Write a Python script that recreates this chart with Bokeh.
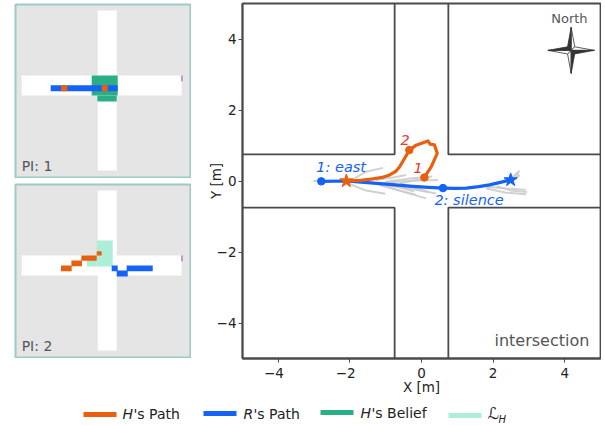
from bokeh.plotting import figure
from bokeh.layouts import column, row
from bokeh.models import Range1d, FixedTicker
from bokeh.core.properties import value
from bokeh.embed import file_html
from bokeh.resources import INLINE

FONT = value("DejaVu Sans")
ORANGE = "#e8600f"
BLUE = "#1463f5"
GREEN = "#2bae85"
LIGHT = "#aeeed8"
GRAY_T = "#555555"
RED = "#e8392c"
ROAD = "#4a4a4a"

# ---- inset grids (cell units): left, right, top, bottom
road_l, road_r, road_t, road_b = [0, 12.36], [26, 15.45], [10.57, 0], [13.82, 26]
marker_l, marker_r, marker_t, marker_b = [25.95], [26.15], [10.57], [11.5]

belief1_l, belief1_r, belief1_t, belief1_b = [11.38, 12.3], [15.61, 15.45], [10.57, 13.82], [13.82, 14.8]
r1_l, r1_r, r1_t, r1_b = [4.72], [15.61], [12.15], [13.13]
h1_l, h1_r, h1_t, h1_b = [6.39, 13.0], [7.43, 14.0], [12.15, 12.15], [13.13, 13.13]

lh2_l, lh2_r, lh2_t, lh2_b = [12.2, 10.57], [14.8, 12.2], [8.13, 10.57], [12.36, 12.36]
h2_l = [6.39, 8.08, 9.7, 12.2]
h2_r = [8.13, 9.8, 12.2, 13.0]
h2_t = [12.2, 11.38, 10.57, 9.87]
h2_b = [13.12, 12.3, 11.43, 10.57]
r2_l = [14.63, 15.45, 17.07]
r2_r = [15.61, 17.24, 21.3]
r2_t = [12.2, 13.0, 12.2]
r2_b = [13.12, 13.98, 13.12]

# ---- main chart paths
blue_x = [-2.80, -2.10, -1.6, -1.08, -0.65, -0.24, 0.2, 0.60, 0.95, 1.25, 1.6, 1.90, 2.2, 2.49]
blue_y = [-0.01, 0.0, -0.04, -0.08, -0.115, -0.15, -0.18, -0.20, -0.21, -0.20, -0.16, -0.11, -0.04, 0.03]
orange_x = [0.08, 0.27, 0.44, 0.36, 0.24, 0.18, -0.15, -0.34, -0.47, -0.61, -0.72, -0.89, -1.1, -1.36, -1.7, -2.10]
orange_y = [0.10, 0.40, 0.78, 1.02, 1.04, 1.13, 1.01, 0.87, 0.64, 0.40, 0.27, 0.17, 0.10, 0.06, 0.02, 0.0]
blue_dots_x, blue_dots_y = [-2.80, 0.60], [-0.01, -0.20]
orange_dots_x, orange_dots_y = [0.08, -0.34], [0.10, 0.87]
orange_star = (-2.10, 0.0)
blue_star = (2.49, 0.03)

gray_xs = [
    [-2.01, -1.55, -1.08], [-2.01, -1.55, -1.01], [-3.02, -2.80], [-1.08, -0.33, 0.46],
    [-1.27, -0.80, -0.43], [-0.61, -0.15, 0.22], [-1.17, -0.52, 0.13], [-1.17, -0.61, -0.15],
    [-0.99, -0.24, 0.41], [1.81, 2.37, 2.92], [1.81, 2.37, 2.92], [2.27, 2.55, 2.74], [2.41, 2.64, 2.74],
    [-1.6, -0.9, -0.2], [-1.0, -0.4, 0.3], [-0.9, -0.3, 0.2], [2.1, 2.5, 2.95], [2.45, 2.62, 2.72],
]
gray_ys = [
    [0.0, 0.26, 0.37], [-0.08, -0.27, -0.36], [-0.0, -0.0], [-0.05, 0.01, 0.03],
    [0.03, 0.10, 0.17], [-0.07, 0.03, 0.07], [-0.11, -0.30, -0.49], [-0.11, -0.27, -0.39],
    [-0.11, -0.23, -0.35], [-0.16, -0.21, -0.25], [-0.21, -0.33, -0.37], [-0.02, 0.12, 0.29], [0.03, 0.07, 0.17],
    [-0.03, -0.1, -0.3], [-0.02, 0.06, 0.13], [-0.12, -0.17, -0.3], [-0.15, -0.27, -0.31], [0.0, 0.12, 0.23],
]

road_half = 0.75
lim = 5
ticks = [-4, -2, 0, 2, 4]


def inset(label, top_margin):
    p = figure(width=177, height=175, output_backend="svg", toolbar_location=None,
               x_range=Range1d(-1.0, 27.44), y_range=Range1d(27.15, -0.98),
               min_border_left=1, min_border_right=1, min_border_top=1, min_border_bottom=1,
               x_axis_location=None, y_axis_location=None, background_fill_color="#e5e5e5",
               margin=(top_margin, 0, 0, 14))
    p.grid.visible = False
    p.outline_line_color = "#9ccac6"
    p.outline_line_width = 2
    p.quad(left=road_l, right=road_r, top=road_t, bottom=road_b, fill_color="white", line_color=None)
    p.quad(left=marker_l, right=marker_r, top=marker_t, bottom=marker_b, fill_color="#a06cc0", line_color=None)
    p.text(x=[0], y=[25.2], text=[label], text_font=FONT, text_font_size="14px", text_color=GRAY_T,
           text_baseline="middle", text_align="left")
    return p


a = inset("PI: 1", 3)
a.quad(left=belief1_l, right=belief1_r, top=belief1_t, bottom=belief1_b, fill_color=GREEN, line_color=None)
a.quad(left=r1_l, right=r1_r, top=r1_t, bottom=r1_b, fill_color=BLUE, line_color=None)
a.quad(left=h1_l, right=h1_r, top=h1_t, bottom=h1_b, fill_color=ORANGE, line_color=None)

b = inset("PI: 2", 5)
b.quad(left=lh2_l, right=lh2_r, top=lh2_t, bottom=lh2_b, fill_color=LIGHT, line_color=None)
b.quad(left=h2_l, right=h2_r, top=h2_t, bottom=h2_b, fill_color=ORANGE, line_color=None)
b.quad(left=r2_l, right=r2_r, top=r2_t, bottom=r2_b, fill_color=BLUE, line_color=None)

m = figure(frame_width=358, frame_height=355, output_backend="svg", toolbar_location=None,
           x_range=Range1d(-lim, lim), y_range=Range1d(-lim, lim),
           min_border_left=10, min_border_right=1, min_border_top=3, min_border_bottom=10,
           x_axis_label="X [m]", y_axis_label="Y [m]", margin=(0, 0, 0, 13))
m.grid.visible = False
m.outline_line_color = "#4a4a4a"
m.outline_line_width = 1.8
for ax in (m.xaxis[0], m.yaxis[0]):
    ax.ticker = FixedTicker(ticks=ticks)
    ax.minor_tick_line_color = None
    ax.major_tick_out = 4
    ax.major_tick_in = 0
    ax.major_label_standoff = 2
    ax.major_label_text_font = "DejaVu Sans"
    ax.major_label_text_font_size = "13.5px"
    ax.major_label_text_color = "#222222"
    ax.axis_label_text_font = "DejaVu Sans"
    ax.axis_label_text_font_size = "13.5px"
    ax.axis_label_text_font_style = "normal"
    ax.axis_label_text_color = "#222222"
    ax.axis_label_standoff = 0
    ax.axis_line_color = "#4a4a4a"
    ax.axis_line_width = 1.8
    ax.major_tick_line_color = "#4a4a4a"
m.xaxis[0].axis_label_standoff = -5
m.yaxis[0].axis_label_standoff = -10
m.yaxis[0].major_label_orientation = "horizontal"
m.xaxis[0].major_label_overrides = {t: str(t).replace("-", "\u2212") + ("\u00a0\u00a0" if t < 0 else "") for t in ticks}
m.yaxis[0].major_label_overrides = {t: str(t).replace("-", "\u2212") for t in ticks}

for sx, sy in [(-1, 1), (1, 1), (-1, -1), (1, -1)]:
    m.line([sx * lim, sx * road_half, sx * road_half], [sy * road_half, sy * road_half, sy * lim],
           line_color=ROAD, line_width=1.8)

m.multi_line(gray_xs, gray_ys, line_color="#cccccc", line_width=2, line_alpha=0.9)
m.line(blue_x, blue_y, line_color=BLUE, line_width=3.2, line_join="round")
m.line(orange_x, orange_y, line_color=ORANGE, line_width=3.2, line_join="round")
m.scatter(blue_dots_x, blue_dots_y, marker="circle", size=7.5, fill_color=BLUE, line_color=BLUE)
m.scatter(orange_dots_x, orange_dots_y, marker="circle", size=7.5, fill_color=ORANGE, line_color=ORANGE)
m.scatter([blue_star[0]], [blue_star[1]], marker="star", size=14, fill_color=BLUE, line_color=BLUE)
m.scatter([orange_star[0]], [orange_star[1]], marker="star", size=14, fill_color=ORANGE, line_color=ORANGE)

m.text(x=[-2.94], y=[0.40], text=["1: east"], text_font=FONT, text_font_style="italic", text_font_size="14.5px",
       text_color=BLUE, text_baseline="middle")
m.text(x=[0.36], y=[-0.53], text=["2: silence"], text_font=FONT, text_font_style="italic", text_font_size="14.5px",
       text_color=BLUE, text_baseline="middle")
m.text(x=[-0.59], y=[1.15], text=["2"], text_font=FONT, text_font_style="italic", text_font_size="14.5px",
       text_color=RED, text_baseline="middle")
m.text(x=[-0.22], y=[0.38], text=["1"], text_font=FONT, text_font_style="italic", text_font_size="14.5px",
       text_color=RED, text_baseline="middle")
m.text(x=[4.64], y=[4.58], text=["North"], text_font=FONT, text_font_size="13px", text_color=GRAY_T,
       text_align="right", text_baseline="middle")
m.text(x=[4.69], y=[-4.49], text=["intersection"], text_font=FONT, text_font_size="16px", text_color=GRAY_T,
       text_align="right", text_baseline="middle")

# compass: dark and light blades around its centre
cx, cy, arm, w = 4.18, 3.68, 0.65, 0.1
dark_xs = [[cx, cx - w, cx], [cx, cx + w, cx], [cx, cx - arm, cx - w], [cx, cx + arm, cx + w]]
dark_ys = [[cy, cy + w, cy + arm], [cy, cy - w, cy - arm], [cy, cy, cy + w], [cy, cy, cy - w]]
light_xs = [[cx, cx + w, cx], [cx, cx - w, cx], [cx, cx - arm, cx - w], [cx, cx + arm, cx + w]]
light_ys = [[cy, cy + w, cy + arm], [cy, cy - w, cy - arm], [cy, cy, cy - w], [cy, cy, cy + w]]
m.patches(light_xs, light_ys, fill_color="white", line_color="#333333", line_width=0.8)
m.patches(dark_xs, dark_ys, fill_color="#333333", line_color="#333333", line_width=0.8)

# ---- legend strip
leg = figure(width=605, height=29, output_backend="svg", toolbar_location=None,
             x_range=Range1d(0, 605), y_range=Range1d(29, 0),
             min_border_left=0, min_border_right=0, min_border_top=0, min_border_bottom=0,
             x_axis_location=None, y_axis_location=None, outline_line_color=None, margin=(1, 0, 0, 0))
leg.grid.visible = False
swatch_colors = [ORANGE, BLUE, GREEN, LIGHT]
swatch_x0 = [83, 203, 320, 448]
swatch_y = [16, 15, 14, 17]
legend_symbol = ["H", "R", "H"]
legend_rest = ["'s Path", "'s Path", "'s Belief"]
text_x = [122, 243, 360]
text_y = [15, 15, 14]
rest_x = [133, 253, 371]
for c, x0, y in zip(swatch_colors, swatch_x0, swatch_y):
    leg.line([x0, x0 + 33], [y, y], line_color=c, line_width=5)
for s, x, y in zip(legend_symbol, text_x, text_y):
    leg.text(x=[x], y=[y], text=[s], text_font=FONT, text_font_style="italic", text_font_size="14px",
             text_color="#222222", text_baseline="middle")
for s, x, y in zip(legend_rest, rest_x, text_y):
    leg.text(x=[x], y=[y], text=[s], text_font=FONT, text_font_size="14px",
             text_color="#222222", text_baseline="middle")
leg.text(x=[487], y=[15], text=["\u2112"], text_font=FONT, text_font_style="italic", text_font_size="16px",
         text_color="#222222", text_baseline="middle")
leg.text(x=[498], y=[21], text=["H"], text_font=FONT, text_font_style="italic", text_font_size="10px",
         text_color="#222222", text_baseline="middle")

page = column(row(column(a, b, spacing=0), m, spacing=0), leg, spacing=0)
open("out.html", "w").write(file_html(page, INLINE))
